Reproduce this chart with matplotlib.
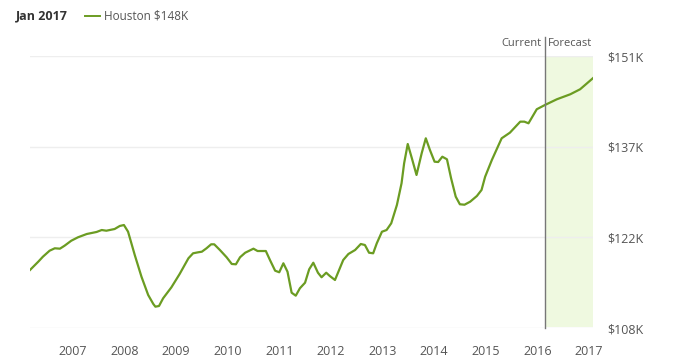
import matplotlib
matplotlib.use("Agg")
import matplotlib.pyplot as plt
from matplotlib.lines import Line2D

plt.rcParams['font.family'] = ['Open Sans', 'DejaVu Sans']

# Decimal-year positions and home values (thousands of USD)
years = [2006.17, 2006.33, 2006.42, 2006.55, 2006.65, 2006.75, 2006.84, 2006.97,
         2007.10, 2007.27, 2007.46, 2007.56, 2007.65, 2007.81, 2007.91, 2007.99,
         2008.07, 2008.20, 2008.33, 2008.46, 2008.56, 2008.60, 2008.67, 2008.75,
         2008.91, 2009.07, 2009.24, 2009.33, 2009.43, 2009.50, 2009.59, 2009.68,
         2009.74, 2009.85, 2009.98, 2010.08, 2010.16, 2010.24, 2010.34, 2010.50,
         2010.58, 2010.74, 2010.82, 2010.92, 2011.00, 2011.08, 2011.16, 2011.24,
         2011.32, 2011.40, 2011.50, 2011.58, 2011.66, 2011.75, 2011.82, 2011.91,
         2011.98, 2012.08, 2012.24, 2012.34, 2012.47, 2012.58, 2012.66, 2012.74,
         2012.82, 2012.89, 2012.99, 2013.08, 2013.17, 2013.28, 2013.37, 2013.42,
         2013.49, 2013.57, 2013.66, 2013.76, 2013.84, 2013.92, 2014.01, 2014.08,
         2014.16, 2014.25, 2014.33, 2014.42, 2014.50, 2014.59, 2014.70, 2014.83,
         2014.92, 2014.99, 2015.12, 2015.31, 2015.47, 2015.67, 2015.75, 2015.83,
         2015.99, 2016.15, 2016.38, 2016.64, 2016.83, 2017.08]
values = [117.17, 118.48, 119.27, 120.22, 120.60, 120.54, 121.01, 121.80,
          122.34, 122.86, 123.18, 123.49, 123.38, 123.65, 124.13, 124.28,
          123.23, 119.54, 116.11, 113.22, 111.79, 111.37, 111.48, 112.70,
          114.43, 116.54, 119.02, 119.81, 119.97, 120.06, 120.60, 121.23,
          121.23, 120.33, 119.18, 118.12, 118.07, 119.18, 119.90, 120.54,
          120.17, 120.17, 118.75, 117.06, 116.81, 118.23, 116.90, 113.58,
          113.11, 114.28, 115.16, 117.28, 118.32, 116.74, 116.02, 116.74,
          116.22, 115.59, 118.75, 119.70, 120.33, 121.28, 121.12, 119.90,
          119.81, 121.39, 123.22, 123.49, 124.55, 127.45, 130.88, 134.04,
          137.09, 134.83, 132.19, 135.62, 137.99, 136.14, 134.29, 134.24,
          135.08, 134.67, 131.67, 128.76, 127.56, 127.49, 127.97, 128.87,
          129.82, 131.92, 134.56, 137.99, 138.88, 140.62, 140.62, 140.36,
          142.58, 143.26, 144.16, 144.95, 145.74, 147.50]

year_ticks = [2007, 2008, 2009, 2010, 2011, 2012, 2013, 2014, 2015, 2016, 2017]
year_labels = ['2007', '2008', '2009', '2010', '2011', '2012', '2013', '2014', '2015', '2016', '2017']
value_ticks = [108.0, 122.33, 136.67, 151.0]
value_labels = ['$108K', '$122K', '$137K', '$151K']

current_year = 2016.15
end_year = 2017.08
start_year = 2006.17

header_date = 'Jan 2017'
legend_label = 'Houston $148K'

GREEN = '#6b9c22'
TEXT = '#555555'

W, H = 679, 364
fig = plt.figure(figsize=(W / 100, H / 100), dpi=100)
left, right, top, bottom = 30, 593, 56, 328
ax = fig.add_axes([left / W, 1 - bottom / H, (right - left) / W, (bottom - top) / H])

ax.set_xlim(start_year, end_year)
ax.set_ylim(value_ticks[0], value_ticks[-1])

ax.axvspan(current_year, end_year, ymin=0.005, ymax=1.0, color='#eff9e0', zorder=0, lw=0)
for v in value_ticks:
    ax.axhline(v, color='#eeeeee', lw=1, zorder=1)

ax.plot(years, values, color=GREEN, lw=1.6, zorder=3, solid_joinstyle='round')

ax.axvline(current_year, ymin=0, ymax=(bottom - 37) / (bottom - top), color='#777777',
           lw=1, clip_on=False, zorder=4)
ax.text(current_year - 0.06, 1.045, 'Current', transform=ax.get_xaxis_transform(),
        ha='right', va='center', fontsize=8, color=TEXT)
ax.text(current_year + 0.06, 1.045, 'Forecast', transform=ax.get_xaxis_transform(),
        ha='left', va='center', fontsize=8, color=TEXT)

for s in ax.spines.values():
    s.set_visible(False)

ax.set_xticks(year_ticks)
ax.set_xticklabels(year_labels)
ax.tick_params(axis='x', length=0, pad=12, labelsize=9, labelcolor=TEXT)
ax.yaxis.tick_right()
ax.set_yticks(value_ticks)
ax.set_yticklabels(value_labels)
ax.tick_params(axis='y', length=0, pad=10, labelsize=9, labelcolor=TEXT)

# header
fig.text(16 / W, 1 - 16 / H, header_date, fontsize=9, fontweight='bold', color='#333333',
         ha='left', va='center')
fig.add_artist(Line2D([85 / W, 100 / W], [1 - 16 / H, 1 - 16 / H], color=GREEN, lw=1.4))
fig.text(104 / W, 1 - 16 / H, legend_label, fontsize=8.5, color=TEXT, ha='left', va='center')

fig.savefig('out.png', dpi=100, facecolor='white')
